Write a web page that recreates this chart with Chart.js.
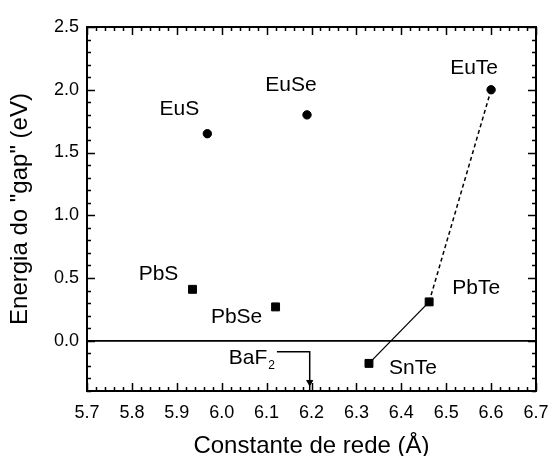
<!DOCTYPE html>
<html>
<head>
<meta charset="utf-8">
<script src="https://cdn.jsdelivr.net/npm/chart.js@4.4.1/dist/chart.umd.min.js"></script>
<style>
  html, body { margin: 0; padding: 0; background: #fff; }
  canvas { display: block; }
</style>
</head>
<body>
<canvas id="gapChart" width="550" height="456"></canvas>
<script>
// compounds: lattice constant (A) vs. energy gap (eV)
const compounds = ['EuS', 'EuSe', 'EuTe', 'PbS', 'PbSe', 'PbTe', 'SnTe'];
const latticeConst = [5.968, 6.19, 6.60, 5.935, 6.12, 6.462, 6.328];
const gapEnergy = [1.65, 1.80, 2.00, 0.41, 0.27, 0.31, -0.18];
const markerShape = ['circle', 'circle', 'circle', 'rect', 'rect', 'rect', 'rect'];

// BaF2 substrate marker (lattice constant 6.196 A)
const substrateLabel = 'BaF';
const substrateSub = '2';
const substratePath = [
    { x: 6.123, y: -0.088 },
    { x: 6.196, y: -0.088 },
    { x: 6.196, y: -0.40 }
];
const substrateArrow = [{ x: 6.196, y: -0.33 }];

// axes
const xTicks = [5.7, 5.8, 5.9, 6.0, 6.1, 6.2, 6.3, 6.4, 6.5, 6.6, 6.7];
const xTickLabels = ['5.7', '5.8', '5.9', '6.0', '6.1', '6.2', '6.3', '6.4', '6.5', '6.6', '6.7'];
const yTicks = [0, 0.5, 1.0, 1.5, 2.0, 2.5];
const yTickLabels = ['0.0', '0.5', '1.0', '1.5', '2.0', '2.5'];

const FONT = 'Liberation Sans, Arial, Helvetica, sans-serif';

// label offsets in pixels relative to each point
const labelOffset = {
    EuS: [-28, -24], EuSe: [-16, -30], EuTe: [-17, -22],
    PbS: [-34, -15], PbSe: [-39, 10], PbTe: [47, -14], SnTe: [44, 5]
};

const pointAt = i => ({ x: latticeConst[i], y: gapEnergy[i] });
const idx = name => compounds.indexOf(name);

// inward ticks + frame, like the original plot
const frameTicks = {
    id: 'frameTicks',
    afterDraw(chart) {
        const { ctx, chartArea: a, scales: { x, y } } = chart;
        ctx.save();
        ctx.strokeStyle = '#000';
        ctx.lineWidth = 1.5;
        ctx.beginPath();
        // x minor every 0.02, y minor every 0.1
        for (let k = 0; k <= 50; k++) {
            const px = Math.round(x.getPixelForValue(5.7 + k * 0.02)) + 0.5;
            const len = (k % 5 === 0) ? 8 : 4;
            ctx.moveTo(px, a.bottom); ctx.lineTo(px, a.bottom - len);
            ctx.moveTo(px, a.top); ctx.lineTo(px, a.top + len);
        }
        for (let k = -4; k <= 25; k++) {
            const py = Math.round(y.getPixelForValue(k * 0.1)) + 0.5;
            const len = (k % 5 === 0) ? 8 : 4;
            ctx.moveTo(a.left, py); ctx.lineTo(a.left + len, py);
            ctx.moveTo(a.right, py); ctx.lineTo(a.right - len, py);
        }
        ctx.stroke();
        ctx.lineWidth = 2;
        ctx.strokeRect(a.left, a.top, a.right - a.left, a.bottom - a.top);
        ctx.restore();
    }
};

// compound names next to the points
const pointLabels = {
    id: 'pointLabels',
    afterDatasetsDraw(chart) {
        const { ctx, scales: { x, y } } = chart;
        ctx.save();
        ctx.fillStyle = '#000';
        ctx.font = '21px ' + FONT;
        ctx.textAlign = 'center';
        ctx.textBaseline = 'middle';
        compounds.forEach((name, i) => {
            const off = labelOffset[name];
            ctx.fillText(name, x.getPixelForValue(latticeConst[i]) + off[0],
                y.getPixelForValue(gapEnergy[i]) + off[1]);
        });
        // BaF2 with subscript
        const sx = x.getPixelForValue(substratePath[0].x) - 2;
        const sy = y.getPixelForValue(substratePath[0].y) + 6;
        ctx.textAlign = 'right';
        ctx.font = '12px ' + FONT;
        ctx.fillText(substrateSub, sx, sy + 8);
        const subW = ctx.measureText(substrateSub).width;
        ctx.font = '21px ' + FONT;
        ctx.fillText(substrateLabel, sx - subW - 1, sy);
        ctx.restore();
    }
};

new Chart(document.getElementById('gapChart'), {
    type: 'scatter',
    data: {
        datasets: [
            {
                // zero line
                data: [{ x: 5.7, y: 0 }, { x: 6.7, y: 0 }],
                showLine: true,
                borderColor: '#000',
                borderWidth: 1.8,
                pointRadius: 0
            },
            {
                data: [pointAt(idx('SnTe')), pointAt(idx('PbTe'))],
                showLine: true,
                borderColor: '#000',
                borderWidth: 1.3,
                pointRadius: 0
            },
            {
                data: [pointAt(idx('PbTe')), pointAt(idx('EuTe'))],
                showLine: true,
                borderColor: '#000',
                borderWidth: 1.5,
                borderDash: [4, 3],
                pointRadius: 0
            },
            {
                data: substratePath,
                showLine: true,
                borderColor: '#000',
                borderWidth: 1.5,
                pointRadius: 0
            },
            {
                data: substrateArrow,
                pointStyle: 'triangle',
                rotation: 180,
                pointRadius: 3.5,
                backgroundColor: '#000',
                borderColor: '#000'
            },
            {
                data: compounds.map((c, i) => pointAt(i)),
                pointStyle: markerShape,
                pointRadius: markerShape.map(s => s === 'rect' ? 5.6 : 4.2),
                backgroundColor: '#000',
                borderColor: '#000',
                borderWidth: 1
            }
        ]
    },
    options: {
        responsive: false,
        animation: false,
        layout: { padding: { top: 27, right: 14, left: 0, bottom: 0 } },
        plugins: { legend: { display: false }, tooltip: { enabled: false } },
        scales: {
            x: {
                type: 'linear',
                min: 5.7,
                max: 6.7,
                grid: { display: false, drawTicks: false },
                border: { display: false },
                afterBuildTicks: s => { s.ticks = xTicks.map(v => ({ value: v })); },
                afterFit: s => { s.height = 65; s.paddingLeft = 0; s.paddingRight = 0; },
                ticks: {
                    padding: 11,
                    color: '#000',
                    font: { family: FONT, size: 18 },
                    callback: (v, i) => xTickLabels[i]
                },
                title: {
                    display: true,
                    text: 'Constante de rede (Å)',
                    color: '#000',
                    font: { family: FONT, size: 24, lineHeight: 1 },
                    padding: { top: 0, bottom: -2 }
                }
            },
            y: {
                type: 'linear',
                min: -0.4,
                max: 2.5,
                grid: { display: false, drawTicks: false },
                border: { display: false },
                afterBuildTicks: s => { s.ticks = yTicks.map(v => ({ value: v })); },
                afterFit: s => { s.width = 87; s.paddingTop = 0; s.paddingBottom = 0; },
                ticks: {
                    padding: 8,
                    color: '#000',
                    font: { family: FONT, size: 18 },
                    callback: (v, i) => yTickLabels[i]
                },
                title: {
                    display: true,
                    text: 'Energia do "gap" (eV)',
                    color: '#000',
                    font: { family: FONT, size: 24, lineHeight: 1 },
                    padding: { top: 8, bottom: 0 }
                }
            }
        }
    },
    plugins: [frameTicks, pointLabels]
});
</script>
</body>
</html>
